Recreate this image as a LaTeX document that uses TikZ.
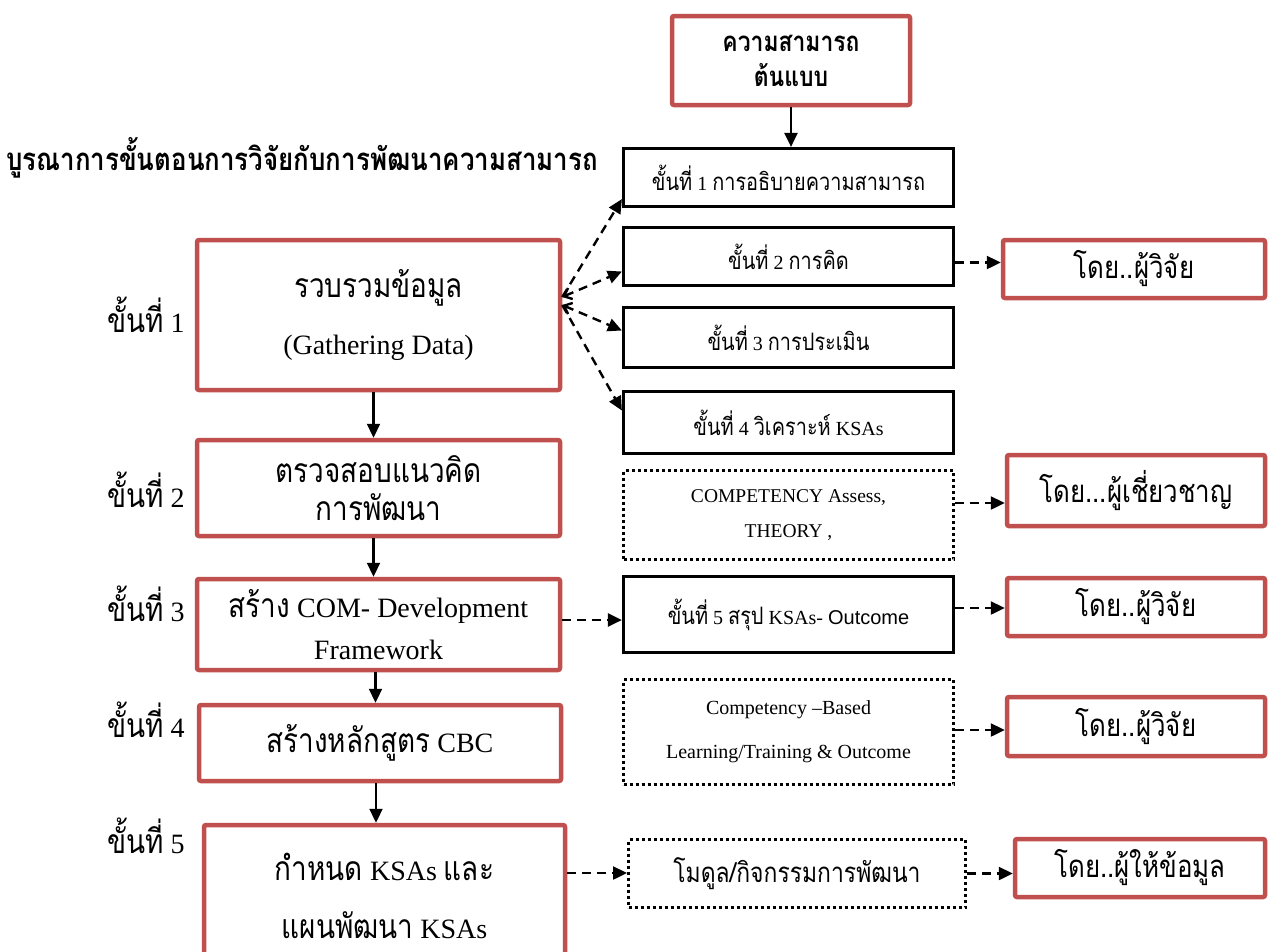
\documentclass[tikz,border=0pt]{standalone}
\usepackage{fontspec}
\setmainfont{Liberation Serif}
\newfontfamily\thai[Script=Thai, Scale=1.2, FakeStretch=0.83]{Loma}
\newfontfamily\arial{Liberation Sans}
\usetikzlibrary{arrows.meta,calc}
\definecolor{boxred}{HTML}{C0504D}

\begin{document}
\begin{tikzpicture}[x=1pt,y=-1pt,
  redbox/.style={draw=boxred, line width=4.5pt, rounded corners=2pt, align=center, inner sep=0pt},
  blackbox/.style={draw=black, line width=3.2pt, align=center, inner sep=0pt},
  dotbox/.style={draw=black, line width=3pt, dash pattern=on 3pt off 3pt, align=center, inner sep=0pt},
  stagebox/.style={redbox, minimum width=360pt},
  midbox/.style={blackbox, minimum width=330pt, font=\fontsize{20}{24}\selectfont},
  whobox/.style={redbox, minimum width=258pt, font=\fontsize{26}{30}\selectfont\thai},
  steplabel/.style={anchor=west, inner sep=0pt, font=\fontsize{28}{32}\selectfont},
  flow/.style={line width=2.2pt, -{Triangle[length=14pt,width=13pt]}},
  link/.style={line width=2.4pt, dash pattern=on 9pt off 6pt, -{Triangle[length=14pt,width=13pt]}},
]
\useasboundingbox (0,0) rectangle (1269,951);
\clip (0,0) rectangle (1269,951);

% heading
\node[anchor=west, inner sep=0pt, font=\fontsize{26}{30}\selectfont\thai\bfseries] (title) at (6,158)
  {บูรณาการขั้นตอนการวิจัยกับการพัฒนาความสามารถ};

% source competency
\node[redbox, minimum width=238pt, minimum height=89pt, font=\fontsize{23}{35}\selectfont\thai\bfseries] (src) at (791,60.5)
  {ความสามารถ\\ต้นแบบ};

% main stages (left column)
\node[stagebox, minimum width=363pt, minimum height=150pt, font=\fontsize{28}{57}\selectfont] (b1) at (378.5,315)
  {{\thai รวบรวมข้อมูล}\\(Gathering Data)};
\node[stagebox, minimum width=363pt, minimum height=96pt, font=\fontsize{28}{38}\selectfont] (b2) at (378.5,488)
  {{\thai ตรวจสอบแนวคิด}\\{\thai การพัฒนา}};
\node[stagebox, minimum width=363pt, minimum height=91pt, font=\fontsize{28}{42}\selectfont] (b3) at (378.5,624.5)
  {{\thai สร้าง} COM- Development\\Framework};
\node[stagebox, minimum width=362pt, minimum height=76pt, font=\fontsize{28}{34}\selectfont] (b4) at (380,743)
  {{\thai สร้างหลักสูตร} CBC};
\node[stagebox, minimum width=361pt, minimum height=142pt, font=\fontsize{28}{58}\selectfont] (b5) at (384.5,896)
  {{\thai กำหนด} KSAs {\thai และ}\\{\thai แผนพัฒนา} KSAs};

% stage numbers
\node[steplabel] (l1) at (107,315) {{\thai ขั้นที่} 1};
\node[steplabel] (l2) at (107,490) {{\thai ขั้นที่} 2};
\node[steplabel] (l3) at (107,604) {{\thai ขั้นที่} 3};
\node[steplabel] (l4) at (107,720) {{\thai ขั้นที่} 4};
\node[steplabel] (l5) at (107,836) {{\thai ขั้นที่} 5};

% sub-steps (middle column)
\node[midbox, minimum height=58pt] (m1) at (788.5,177.5)
  {{\thai ขั้นที่} 1 {\thai การอธิบายความสามารถ}};
\node[midbox, minimum height=58pt] (m2) at (788.5,256.5)
  {{\thai ขั้นที่} 2 {\thai การคิด}};
\node[midbox, minimum height=60pt] (m3) at (788.5,337.5)
  {{\thai ขั้นที่} 3 {\thai การประเมิน}};
\node[midbox, minimum height=62pt] (m4) at (788.5,422.5)
  {{\thai ขั้นที่} 4 {\thai วิเคราะห์} KSAs};
\node[dotbox, minimum width=330pt, minimum height=89pt, font=\fontsize{19.5}{35}\selectfont] (d1) at (788.5,515)
  {COMPETENCY Assess,\\THEORY ,};
\node[midbox, minimum height=76pt] (m5) at (788.5,614.5)
  {{\thai ขั้นที่} 5 {\thai สรุป} KSAs- {\arial Outcome}};
\node[dotbox, minimum width=330pt, minimum height=105pt, font=\fontsize{20}{44}\selectfont] (d2) at (788.5,732)
  {Competency --Based\\Learning/Training \& Outcome};
\node[dotbox, minimum width=337pt, minimum height=68pt, font=\fontsize{23}{27}\selectfont\thai] (d3) at (797,873.5)
  {โมดูล/กิจกรรมการพัฒนา};

% who carries out each part (right column)
\node[whobox, minimum width=262pt, minimum height=58pt] (r1) at (1134,269) {โดย..ผู้วิจัย};
\node[whobox, minimum height=71pt] (r2) at (1136,490.5) {โดย...ผู้เชี่ยวชาญ};
\node[whobox, minimum height=58pt] (r3) at (1136,607) {โดย..ผู้วิจัย};
\node[whobox, minimum height=59pt] (r4) at (1136,726.5) {โดย..ผู้วิจัย};
\node[whobox, minimum width=250pt, minimum height=58pt] (r5) at (1140,868) {โดย..ผู้ให้ข้อมูล};

% main flow
\draw[flow] (src.south) -- (src.south |- m1.north);
\coordinate (f1) at ([xshift=-5pt]b1.south);
\draw[flow] (f1) -- (f1 |- b2.north);
\coordinate (f2) at ([xshift=-5pt]b2.south);
\draw[flow] (f2) -- (f2 |- b3.north);
\coordinate (f3) at ([xshift=-3pt]b3.south);
\draw[flow] (f3) -- (f3 |- b4.north);
\coordinate (f4) at ([xshift=-4pt]b4.south);
\draw[flow] (f4) -- (f4 |- b5.north);

% fan from data gathering to the four sub-steps
\coordinate (fanA) at ([yshift=18pt]b1.east);
\coordinate (fanB) at ([yshift=10pt]b1.east);
\draw[link] (fanA) -- ([yshift=9pt]m1.south west);
\draw[link, {Straight Barb[length=7pt,width=12pt]}-{Triangle[length=14pt,width=13pt]}] (fanA) -- ([yshift=-15pt]m2.west);
\draw[link, {Straight Barb[length=7pt,width=12pt]}-{Triangle[length=14pt,width=13pt]}] (fanB) -- ([yshift=7pt]m3.west);
\draw[link] (fanB) -- ([yshift=12pt]m4.west);

% links to the right column
\coordinate (e2) at ([yshift=-6pt]m2.east);
\draw[link] (e2) -- (e2 -| r1.west);
\coordinate (ed1) at ([yshift=12pt]d1.east);
\draw[link] (ed1) -- (ed1 -| r2.west);
\coordinate (eb3) at ([yshift=4.5pt]b3.east);
\draw[link] (eb3) -- (eb3 -| m5.west);
\coordinate (e5) at ([yshift=6.5pt]m5.east);
\draw[link] (e5) -- (e5 -| r3.west);
\coordinate (ed2) at ([yshift=2pt]d2.east);
\draw[link] (ed2) -- (ed2 -| r4.west);
\coordinate (eb5) at ([yshift=23pt]b5.east);
\draw[link] (eb5) -- (eb5 -| d3.west);
\coordinate (ed3) at (d3.east);
\draw[link] (ed3) -- (ed3 -| r5.west);
\end{tikzpicture}
\end{document}
